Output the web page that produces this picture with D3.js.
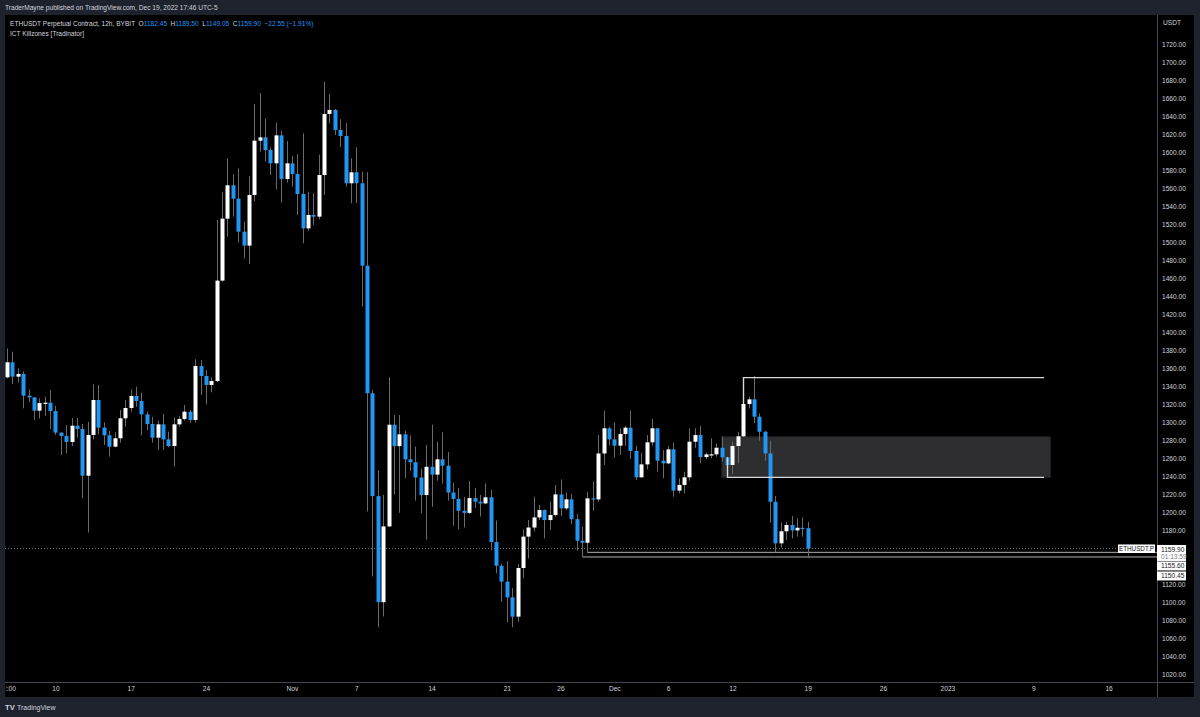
<!DOCTYPE html>
<html>
<head>
<meta charset="utf-8">
<script src="https://d3js.org/d3.v7.min.js"></script>
<style>
	body { margin: 0; background: #1e222d; }
	text { font-family: 'Liberation Sans', Arial, sans-serif; }
</style>
</head>
<body>
<script>
// candle data, 12h ETHUSDT, first candle is Oct 5 12:00
var firstCandle = Date.UTC(2022, 9, 5, 12)
var halfDay = 12 * 3600 * 1000

var opens = [
	1350.2, 1366.9, 1350.9, 1353.9, 1329.8, 1327.9, 1313.1, 1321.6, 1322.0, 1312.7,
	1288.7, 1285.0, 1278.3, 1296.4, 1292.7, 1240.8, 1286.1, 1325.0, 1294.2, 1285.7,
	1273.1, 1282.4, 1304.6, 1316.1, 1329.4, 1323.9, 1309.0, 1298.3, 1283.1, 1297.9,
	1281.2, 1273.8, 1297.9, 1303.9, 1312.0, 1302.7, 1362.8, 1351.7, 1341.7, 1346.1,
	1457.7, 1526.6, 1563.7, 1548.8, 1512.1, 1496.6, 1552.9, 1613.3, 1617.0, 1602.9,
	1588.1, 1619.2, 1570.7, 1588.1, 1576.3, 1554.0, 1515.8, 1530.7, 1528.8, 1575.1,
	1643.0, 1647.4, 1625.2, 1618.5, 1565.9, 1578.1, 1565.9, 1474.3, 1332.5, 1218.1,
	1100.2, 1184.4, 1297.5, 1273.7, 1286.8, 1259.0, 1255.8, 1238.8, 1219.3, 1250.7,
	1242.0, 1259.0, 1251.9, 1222.1, 1215.0, 1201.8, 1199.5, 1215.9, 1211.9, 1210.0,
	1216.8, 1167.0, 1140.7, 1123.0, 1105.6, 1084.1, 1138.2, 1173.1, 1183.2, 1194.4,
	1202.6, 1191.5, 1197.1, 1220.0, 1204.5, 1214.5, 1192.5, 1168.5, 1166.3, 1215.6,
	1214.5, 1265.5, 1293.5, 1281.2, 1274.2, 1287.2, 1294.2, 1268.3, 1239.0, 1253.4,
	1277.9, 1293.5, 1257.5, 1254.5, 1270.1, 1224.2, 1230.5, 1239.0, 1278.6, 1286.0,
	1261.5, 1264.5, 1264.6, 1271.9, 1261.2, 1252.7, 1273.8, 1284.6, 1320.5, 1325.7,
	1306.4, 1289.7, 1265.6, 1211.9, 1165.6, 1179.0, 1186.0, 1180.0, 1182.9, 1182.45
]
var highs = [
	1382.4, 1378.7, 1360.2, 1356.8, 1336.8, 1328.3, 1326.8, 1328.7, 1336.1, 1318.3,
	1289.0, 1297.2, 1305.0, 1305.0, 1298.3, 1300.5, 1342.4, 1341.6, 1300.1, 1290.5,
	1289.0, 1313.9, 1325.0, 1336.8, 1339.8, 1333.1, 1312.0, 1306.4, 1302.0, 1309.4,
	1289.8, 1305.7, 1307.2, 1319.4, 1313.9, 1370.2, 1369.5, 1358.3, 1350.2, 1525.1,
	1555.9, 1593.7, 1575.9, 1582.6, 1523.3, 1574.0, 1654.1, 1666.3, 1637.8, 1605.9,
	1633.3, 1624.4, 1612.9, 1596.3, 1598.5, 1621.5, 1556.6, 1554.8, 1597.8, 1678.9,
	1665.2, 1648.5, 1637.0, 1632.6, 1593.7, 1605.9, 1578.9, 1578.3, 1336.5, 1246.7,
	1219.3, 1350.4, 1308.3, 1308.3, 1290.8, 1285.6, 1273.3, 1248.7, 1274.9, 1297.5,
	1278.5, 1289.2, 1267.0, 1232.8, 1227.2, 1217.3, 1234.8, 1227.0, 1219.3, 1232.2,
	1225.0, 1191.0, 1143.0, 1146.0, 1115.8, 1142.6, 1181.1, 1191.5, 1217.3, 1208.2,
	1203.4, 1211.9, 1230.4, 1236.7, 1221.9, 1220.4, 1198.2, 1184.1, 1223.0, 1234.5,
	1286.0, 1313.1, 1295.3, 1300.1, 1293.5, 1296.4, 1313.1, 1274.2, 1266.4, 1286.0,
	1303.8, 1293.8, 1269.4, 1273.8, 1277.5, 1237.9, 1245.3, 1293.5, 1293.5, 1296.2,
	1266.4, 1282.3, 1276.7, 1284.2, 1261.9, 1278.6, 1289.7, 1349.8, 1328.6, 1351.6,
	1310.1, 1290.5, 1279.7, 1218.2, 1188.5, 1189.7, 1196.0, 1193.4, 1194.5, 1189.5
]
var lows = [
	1349.0, 1342.8, 1344.6, 1315.7, 1322.4, 1302.7, 1304.6, 1307.2, 1293.1, 1286.1,
	1263.8, 1265.7, 1273.8, 1283.1, 1215.6, 1177.5, 1281.2, 1286.8, 1275.0, 1262.0,
	1272.5, 1277.5, 1295.3, 1312.0, 1317.6, 1285.7, 1291.6, 1277.5, 1269.4, 1269.4,
	1272.4, 1250.9, 1295.3, 1302.0, 1299.8, 1299.8, 1330.5, 1320.0, 1333.5, 1345.0,
	1456.6, 1506.6, 1528.8, 1499.9, 1482.5, 1476.2, 1546.2, 1601.1, 1590.0, 1575.1,
	1559.2, 1544.4, 1566.6, 1562.2, 1530.7, 1499.2, 1513.2, 1519.6, 1525.9, 1552.9,
	1632.6, 1619.6, 1605.9, 1562.2, 1543.6, 1543.6, 1428.8, 1201.0, 1128.8, 1072.4,
	1084.3, 1184.0, 1220.1, 1199.5, 1238.0, 1245.9, 1213.0, 1199.1, 1169.7, 1206.2,
	1235.2, 1232.0, 1213.0, 1185.2, 1181.2, 1183.2, 1198.3, 1205.0, 1195.3, 1209.0,
	1158.0, 1132.1, 1100.8, 1077.7, 1072.3, 1078.3, 1126.7, 1148.8, 1178.9, 1191.5,
	1171.1, 1180.4, 1195.2, 1196.0, 1202.6, 1187.1, 1157.4, 1150.45, 1155.6, 1201.9,
	1211.9, 1252.7, 1274.2, 1261.2, 1263.8, 1273.8, 1259.4, 1236.0, 1238.5, 1247.9,
	1274.2, 1245.3, 1237.9, 1253.4, 1217.5, 1221.2, 1221.2, 1235.3, 1272.0, 1254.5,
	1259.0, 1260.1, 1261.9, 1256.4, 1238.9, 1242.7, 1254.5, 1284.0, 1315.7, 1299.0,
	1279.7, 1257.5, 1188.5, 1155.6, 1161.1, 1169.3, 1171.1, 1173.0, 1173.0, 1149.05
]
var closes = [
	1366.9, 1350.9, 1353.9, 1329.8, 1327.9, 1313.1, 1321.6, 1322.0, 1312.7, 1288.7,
	1285.0, 1278.3, 1296.4, 1292.7, 1240.8, 1286.1, 1325.0, 1294.2, 1285.7, 1273.1,
	1282.4, 1304.6, 1316.1, 1329.4, 1323.9, 1309.0, 1298.3, 1283.1, 1297.9, 1281.2,
	1273.8, 1297.9, 1303.9, 1312.0, 1302.7, 1362.8, 1351.7, 1341.7, 1346.1, 1457.7,
	1526.6, 1563.7, 1548.8, 1512.1, 1496.6, 1552.9, 1613.3, 1617.0, 1602.9, 1588.1,
	1619.2, 1570.7, 1588.1, 1576.3, 1554.0, 1515.8, 1530.7, 1528.8, 1575.1, 1643.0,
	1647.4, 1625.2, 1618.5, 1565.9, 1578.1, 1565.9, 1474.3, 1332.5, 1218.1, 1100.2,
	1184.4, 1297.5, 1273.7, 1286.8, 1259.0, 1255.8, 1238.8, 1219.3, 1250.7, 1242.0,
	1259.0, 1251.9, 1222.1, 1215.0, 1201.8, 1199.5, 1215.9, 1211.9, 1210.0, 1216.8,
	1167.0, 1140.7, 1123.0, 1105.6, 1084.1, 1138.2, 1173.1, 1183.2, 1194.4, 1202.6,
	1191.5, 1197.1, 1220.0, 1204.5, 1214.5, 1192.5, 1168.5, 1166.3, 1215.6, 1214.5,
	1265.5, 1293.5, 1281.2, 1274.2, 1287.2, 1294.2, 1268.3, 1239.0, 1253.4, 1277.9,
	1293.5, 1257.5, 1254.5, 1270.1, 1224.2, 1230.5, 1239.0, 1278.6, 1286.0, 1261.5,
	1264.5, 1264.6, 1271.9, 1261.2, 1252.7, 1273.8, 1284.6, 1320.5, 1325.7, 1306.4,
	1289.7, 1265.6, 1211.9, 1165.6, 1179.0, 1186.0, 1180.0, 1182.9, 1182.45, 1159.9
]

// axis tick labels
var priceTicks = d3.range(1020, 1721, 20)
var timeTickDates = ['2022-10-05T12:00Z', '2022-10-10', '2022-10-17', '2022-10-24', '2022-11-01', '2022-11-07',
	'2022-11-14', '2022-11-21', '2022-11-26', '2022-12-01', '2022-12-06', '2022-12-12', '2022-12-19',
	'2022-12-26', '2023-01-01', '2023-01-09', '2023-01-16']
var timeTickLabels = ['12:00', '10', '17', '24', 'Nov', '7', '14', '21', '26', 'Dec', '6', '12', '19',
	'26', '2023', '9', '16']

// drawn levels (price, candle index where it starts)
var zoneTop = 1284.2
var zoneBottom = 1238.9
var zoneStart = 133
var zoneEnd = 194.2
var rayEnd = 193
var highLevel = { price: 1349.8, idx: 137 }
var lowLevel = { price: 1238.9, idx: 134 }
var bottomLevels = [ { price: 1155.6, idx: 108 }, { price: 1150.45, idx: 107 } ]
var countdown = '01:13:59'

var candles = opens.map(function(o, i) {
	return { date: new Date(firstCandle + i * halfDay), i: i, o: o, h: highs[i], l: lows[i], c: closes[i] }
})

// layout
var W = 1200, H = 717
var pane = { left: 5, top: 15, right: 1157, bottom: 682 }
var axisRight = 1194
var axisBottom = 697
var fontSize = 6.6

var upColor = '#ffffff'
var downColor = '#2196f3'
var wickColor = '#6a6a6a'
var textColor = '#d1d4dc'
var lineGrey = '#434651'

var x = d3.scaleUtc()
	.domain([new Date(firstCandle), new Date(firstCandle + 149 * halfDay)])
	.range([7.1, 807.7])

var y = d3.scaleLinear()
	.domain([1020, 1720])
	.range([674.3, 44.7])

function xi(i) { return x(new Date(firstCandle + i * halfDay)) }

var svg = d3.select('body')
	.append('svg')
		.attr('width', W)
		.attr('height', H)

svg.append('rect')
	.attr('width', W)
	.attr('height', H)
	.attr('fill', '#1e222d')

// black chart + axis background
svg.append('rect')
	.attr('x', pane.left)
	.attr('y', pane.top)
	.attr('width', axisRight - pane.left)
	.attr('height', axisBottom - pane.top)
	.attr('fill', '#000')

svg.append('clipPath')
	.attr('id', 'paneClip')
	.append('rect')
		.attr('x', pane.left)
		.attr('y', pane.top)
		.attr('width', pane.right - pane.left)
		.attr('height', pane.bottom - pane.top)

var plot = svg.append('g').attr('clip-path', 'url(#paneClip)')

// grey zone box
plot.append('rect')
	.attr('x', xi(zoneStart))
	.attr('y', y(zoneTop))
	.attr('width', xi(zoneEnd) - xi(zoneStart))
	.attr('height', y(zoneBottom) - y(zoneTop))
	.attr('fill', '#2e2e31')
	.attr('stroke', '#1c1c1e')
	.attr('stroke-width', 1)

// current price dotted line
plot.append('line')
	.attr('x1', pane.left)
	.attr('x2', 1118)
	.attr('y1', Math.round(y(closes[149])) + 0.5)
	.attr('y2', Math.round(y(closes[149])) + 0.5)
	.attr('stroke', '#6f7280')
	.attr('stroke-dasharray', '1,2')

// bottom level lines
plot.selectAll('.lowray')
		.data(bottomLevels)
	.enter().append('path')
		.attr('class', 'lowray')
		.attr('d', function(d) {
			var px = Math.round(xi(d.idx)) + 0.5
			return 'M' + px + ',' + y(closes[d.idx]) + 'V' + y(d.price) + 'H' + pane.right
		})
		.attr('fill', 'none')
		.attr('stroke', '#b0b0b0')
		.attr('stroke-width', 1)

// wicks
plot.selectAll('.wick')
		.data(candles)
	.enter().append('line')
		.attr('class', 'wick')
		.attr('x1', function(d) { return Math.round(x(d.date)) + 0.5 })
		.attr('x2', function(d) { return Math.round(x(d.date)) + 0.5 })
		.attr('y1', function(d) { return y(d.h) })
		.attr('y2', function(d) { return y(d.l) })
		.attr('stroke', wickColor)
		.attr('stroke-width', 1)

// bodies
plot.selectAll('.body')
		.data(candles)
	.enter().append('rect')
		.attr('class', 'body')
		.attr('x', function(d) { return Math.round(x(d.date)) - 1.5 })
		.attr('y', function(d) { return y(Math.max(d.o, d.c)) })
		.attr('width', 4)
		.attr('height', function(d) { return Math.max(1.2, Math.abs(y(d.o) - y(d.c))) })
		.attr('fill', function(d) { return d.c >= d.o ? upColor : downColor })

// upper level lines of the zone
plot.selectAll('.zoneray')
		.data([ highLevel, lowLevel ])
	.enter().append('path')
		.attr('class', 'zoneray')
		.attr('d', function(d) {
			var px = Math.round(xi(d.idx)) + 0.5
			return 'M' + px + ',' + y(Math.max(opens[d.idx], closes[d.idx])) + 'V' + y(d.price) + 'H' + xi(rayEnd)
		})
		.attr('fill', 'none')
		.attr('stroke', '#d8d8d8')
		.attr('stroke-width', 1.4)

// axis separators
svg.append('line')
	.attr('x1', pane.right + 0.5).attr('x2', pane.right + 0.5)
	.attr('y1', pane.top).attr('y2', axisBottom)
	.attr('stroke', lineGrey)
svg.append('line')
	.attr('x1', pane.left).attr('x2', axisRight)
	.attr('y1', pane.bottom + 0.5).attr('y2', pane.bottom + 0.5)
	.attr('stroke', lineGrey)

// price axis
var yAxis = d3.axisRight(y)
	.tickValues(priceTicks)
	.tickFormat(d3.format('.2f'))
	.tickSize(0)
	.tickPadding(0)

var yAxisG = svg.append('g')
	.attr('transform', 'translate(' + 1162 + ',0)')
	.call(yAxis)
yAxisG.select('.domain').remove()
yAxisG.selectAll('text')
	.attr('fill', textColor)
	.attr('font-size', fontSize)
	.attr('font-family', "'Liberation Sans', Arial, sans-serif")

svg.append('text')
	.attr('x', 1163)
	.attr('y', 24.5)
	.attr('fill', textColor)
	.attr('font-size', fontSize)
	.text('USDT')

// time axis
svg.append('clipPath')
	.attr('id', 'timeClip')
	.append('rect')
		.attr('x', pane.left + 1)
		.attr('y', pane.bottom)
		.attr('width', pane.right - pane.left - 1)
		.attr('height', axisBottom - pane.bottom)

var xAxis = d3.axisBottom(x)
	.tickValues(timeTickDates.map(function(s) { return new Date(s.length > 10 ? s : s + 'T00:00Z') }))
	.tickFormat(function(d, i) { return timeTickLabels[i] })
	.tickSize(0)
	.tickPadding(0)

var xAxisG = svg.append('g')
	.attr('clip-path', 'url(#timeClip)')
	.append('g')
		.attr('transform', 'translate(0,' + 686 + ')')
		.call(xAxis)
xAxisG.select('.domain').remove()
xAxisG.selectAll('text')
	.attr('fill', textColor)
	.attr('font-size', fontSize)
	.attr('font-family', "'Liberation Sans', Arial, sans-serif")

// symbol label at the end of the dotted line
var labG = svg.append('g')
var cy = y(closes[149])
labG.append('rect')
	.attr('x', 1118).attr('y', cy - 4)
	.attr('width', 37).attr('height', 8.5)
	.attr('fill', '#ffffff')
labG.append('text')
	.attr('x', 1136.5).attr('y', cy)
	.attr('dy', '0.35em')
	.attr('text-anchor', 'middle')
	.attr('font-size', 6.3)
	.attr('fill', '#131722')
	.text('ETHUSDT.P')

// price boxes on the axis
labG.append('rect')
	.attr('x', 1157).attr('y', cy - 3.5)
	.attr('width', 29).attr('height', 16)
	.attr('fill', '#ffffff')
labG.append('text')
	.attr('x', 1161).attr('y', cy + 0.8)
	.attr('dy', '0.35em')
	.attr('font-size', fontSize)
	.attr('fill', '#131722')
	.text(d3.format('.2f')(closes[149]))
labG.append('text')
	.attr('x', 1161).attr('y', cy + 8.3)
	.attr('dy', '0.35em')
	.attr('font-size', fontSize)
	.attr('fill', '#787b86')
	.text(countdown)

bottomLevels.forEach(function(d, k) {
	var by = cy + 13 + k * 10
	labG.append('rect')
		.attr('x', 1157).attr('y', by)
		.attr('width', 29).attr('height', 9)
		.attr('fill', '#ffffff')
	labG.append('text')
		.attr('x', 1161).attr('y', by + 4.5)
		.attr('dy', '0.35em')
		.attr('font-size', fontSize)
		.attr('fill', '#131722')
		.text(d3.format('.2f')(d.price))
})

// header texts
svg.append('text')
	.attr('x', 5)
	.attr('y', 10)
	.attr('fill', textColor)
	.attr('font-size', fontSize)
	.text('TraderMayne published on TradingView.com, Dec 19, 2022 17:46 UTC-5')

var last = candles[149]
var chg = last.c - closes[148]
var fmt = d3.format('.2f')
var legend = svg.append('text')
	.attr('x', 10)
	.attr('y', 26.3)
	.attr('font-size', fontSize)
	.attr('fill', textColor)
legend.append('tspan').text('ETHUSDT Perpetual Contract, 12h, BYBIT')
var parts = [['O', last.o], ['H', last.h], ['L', last.l], ['C', last.c]]
parts.forEach(function(p) {
	legend.append('tspan').attr('dx', 3.5).attr('fill', textColor).text(p[0])
	legend.append('tspan').attr('fill', downColor).text(fmt(p[1]))
})
legend.append('tspan').attr('dx', 3.5).attr('fill', downColor)
	.text('\u2212' + fmt(Math.abs(chg)) + ' (\u2212' + fmt(Math.abs(chg) / closes[148] * 100) + '%)')

svg.append('text')
	.attr('x', 10)
	.attr('y', 35.8)
	.attr('font-size', fontSize)
	.attr('fill', textColor)
	.text('ICT Killzones [Tradinator]')

// footer logo
svg.append('text')
	.attr('x', 5)
	.attr('y', 710)
	.attr('font-size', 7.6)
	.attr('font-weight', 'bold')
	.attr('fill', textColor)
	.text('TV')
svg.append('text')
	.attr('x', 17)
	.attr('y', 710)
	.attr('font-size', fontSize + 0.4)
	.attr('fill', textColor)
	.text('TradingView')
</script>
</body>
</html>
